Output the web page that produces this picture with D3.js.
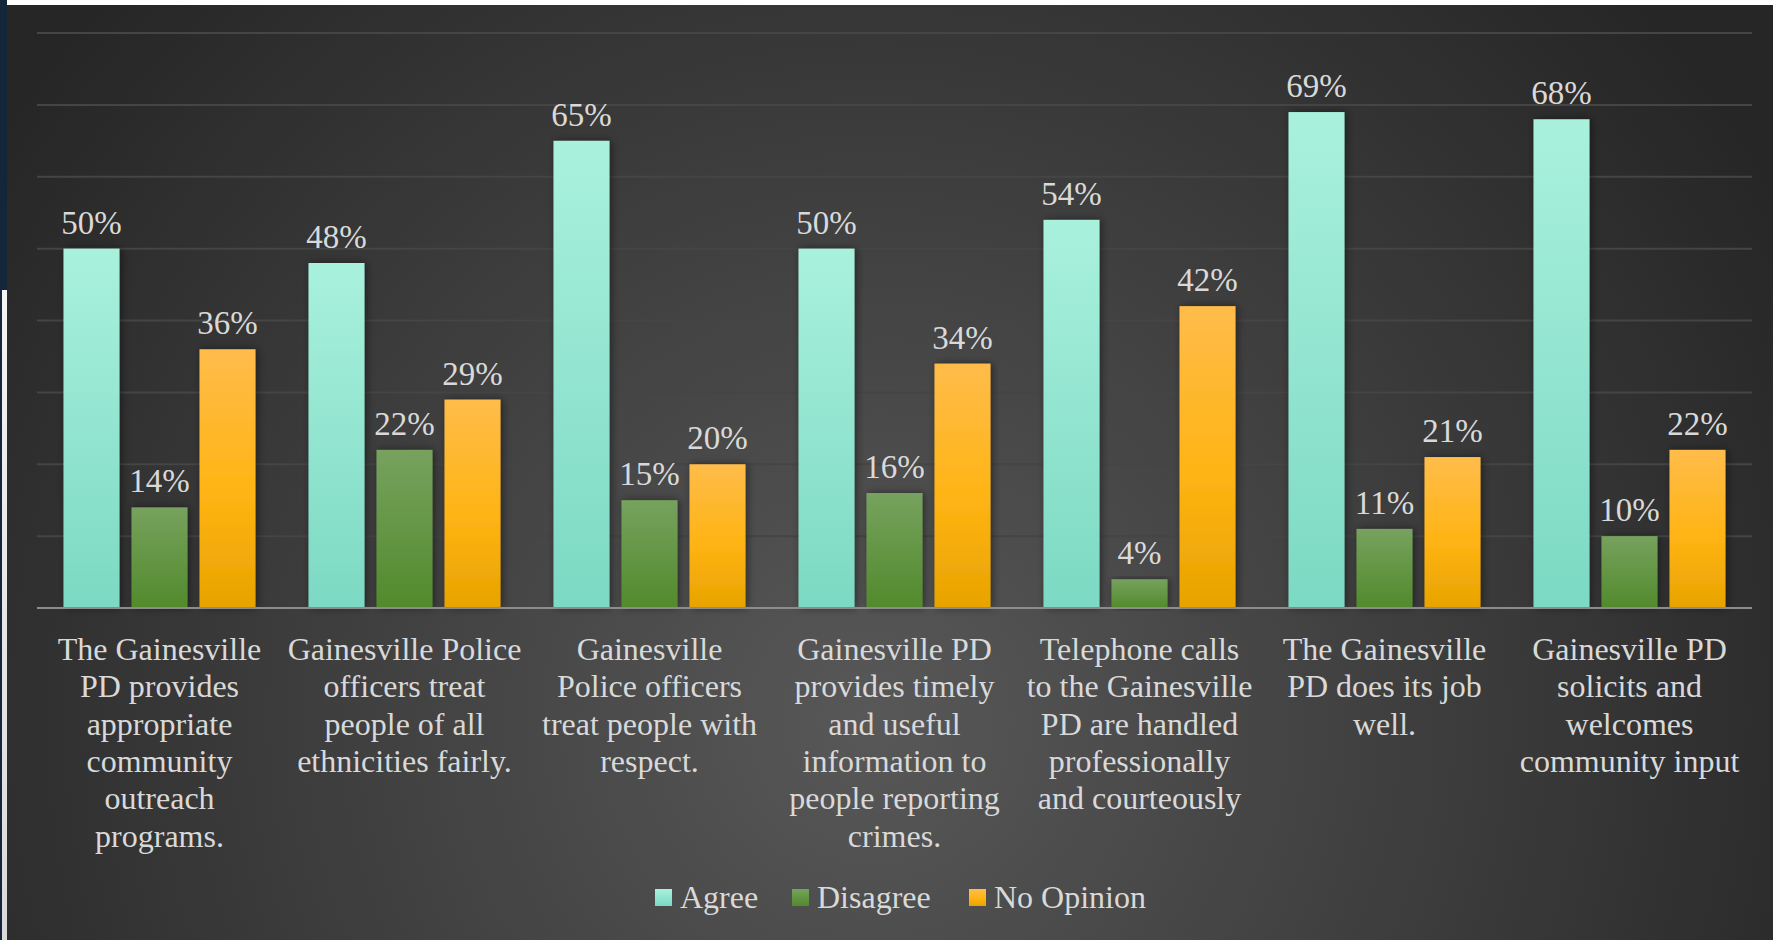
<!DOCTYPE html>
<html>
<head>
<meta charset="utf-8">
<script src="https://cdn.jsdelivr.net/npm/d3@7"></script>
<style>
  html, body { margin: 0; padding: 0; background: #ffffff; overflow: hidden; }
  svg { display: block; }
</style>
</head>
<body>
<svg class="d3svg" width="1773" height="940"></svg>
<script>
var text_color = '#d9d9d9';
var grid_color = '#454545';
var axis_color = '#8c8c8c';

// data
var categories = ['c1', 'c2', 'c3', 'c4', 'c5', 'c6', 'c7'];
var category_lines = [
    ['The Gainesville', 'PD provides', 'appropriate', 'community', 'outreach', 'programs.'],
    ['Gainesville Police', 'officers treat', 'people of all', 'ethnicities fairly.'],
    ['Gainesville', 'Police officers', 'treat people with', 'respect.'],
    ['Gainesville PD', 'provides timely', 'and useful', 'information to', 'people reporting', 'crimes.'],
    ['Telephone calls', 'to the Gainesville', 'PD are handled', 'professionally', 'and courteously'],
    ['The Gainesville', 'PD does its job', 'well.'],
    ['Gainesville PD', 'solicits and', 'welcomes', 'community input']
];
var series = ['Agree', 'Disagree', 'No Opinion'];
var agree = [50, 48, 65, 50, 54, 69, 68];
var disagree = [14, 22, 15, 16, 4, 11, 10];
var no_opinion = [36, 29, 20, 34, 42, 21, 22];
var y_ticks = [0, 10, 20, 30, 40, 50, 60, 70, 80];

var values = [agree, disagree, no_opinion];
var series_colors = [
    ['#a9f1dd', '#7cd9c3'],
    ['#76a25e', '#528a2c'],
    ['#ffbc4a', '#e8a300']
];

var svg = d3.select(".d3svg"),
    width = +svg.attr("width"),
    height = +svg.attr("height");

var defs = svg.append("defs");

var bg = defs.append("radialGradient")
    .attr("id", "bg")
    .attr("gradientUnits", "userSpaceOnUse")
    .attr("cx", 870).attr("cy", 720).attr("r", 1050);
bg.append("stop").attr("offset", "0%").attr("stop-color", "#585858");
bg.append("stop").attr("offset", "100%").attr("stop-color", "#262626");

var edge = defs.append("linearGradient")
    .attr("id", "edge")
    .attr("x1", 0).attr("y1", 0).attr("x2", 0).attr("y2", 1);
edge.append("stop").attr("offset", "0%").attr("stop-color", "#f4f4f4");
edge.append("stop").attr("offset", "100%").attr("stop-color", "#dadada");

series_colors.forEach(function(c, k) {
    var g = defs.append("linearGradient")
        .attr("id", "bar" + k)
        .attr("x1", 0).attr("y1", 0).attr("x2", 0).attr("y2", 1);
    g.append("stop").attr("offset", "0%").attr("stop-color", c[0]);
    if (k == 2) g.append("stop").attr("offset", "55%").attr("stop-color", "#ffb414");
    g.append("stop").attr("offset", "100%").attr("stop-color", c[1]);
});

var shadow = defs.append("filter").attr("id", "shadow")
    .attr("x", "-30%").attr("y", "-10%").attr("width", "160%").attr("height", "120%");
shadow.append("feDropShadow")
    .attr("dx", 2).attr("dy", 0).attr("stdDeviation", 4)
    .attr("flood-color", "#000").attr("flood-opacity", 0.45);

// frame
svg.append("rect").attr("x", 0).attr("y", 0).attr("width", width).attr("height", height).attr("fill", "#ffffff");
svg.append("rect").attr("x", 0).attr("y", 0).attr("width", 7).attr("height", height).attr("fill", "#15253a");
svg.append("rect").attr("x", 2).attr("y", 290).attr("width", 5).attr("height", height - 290).attr("fill", "url(#edge)");
svg.append("rect").attr("x", 7).attr("y", 5).attr("width", width - 7).attr("height", height - 5).attr("fill", "url(#bg)");

var x0 = d3.scaleBand().domain(categories).range([37, 1752])
    .paddingInner(53 / 245).paddingOuter(53 / 490);
var x1 = d3.scaleBand().domain(series).range([0, x0.bandwidth()])
    .paddingInner(12 / 68);
var y = d3.scaleLinear().domain([0, 80]).range([608, 33]);

// gridlines
svg.append("g").selectAll("line")
    .data(y_ticks.slice(1))
    .enter().append("line")
    .attr("x1", 37).attr("x2", 1752)
    .attr("y1", function(d) { return y(d); })
    .attr("y2", function(d) { return y(d); })
    .attr("stroke", grid_color)
    .attr("stroke-width", 2);

// bars
var groups = svg.append("g").selectAll("g")
    .data(categories)
    .enter().append("g")
    .attr("transform", function(d) { return "translate(" + x0(d) + ",0)"; });

groups.selectAll("rect")
    .data(function(d, i) { return series.map(function(s, k) { return {s: s, k: k, v: values[k][i]}; }); })
    .enter().append("rect")
    .attr("x", function(d) { return x1(d.s); })
    .attr("y", function(d) { return y(d.v); })
    .attr("width", x1.bandwidth())
    .attr("height", function(d) { return y(0) - y(d.v); })
    .attr("fill", function(d) { return "url(#bar" + d.k + ")"; })
    .attr("filter", "url(#shadow)");

groups.selectAll("text")
    .data(function(d, i) { return series.map(function(s, k) { return {s: s, k: k, v: values[k][i]}; }); })
    .enter().append("text")
    .attr("x", function(d) { return x1(d.s) + x1.bandwidth() / 2; })
    .attr("y", function(d) { return y(d.v) - 15; })
    .attr("text-anchor", "middle")
    .attr("font-family", "'Liberation Serif', serif")
    .attr("font-size", 33)
    .attr("fill", text_color)
    .text(function(d) { return d.v + "%"; });

// axis line
svg.append("line")
    .attr("x1", 37).attr("x2", 1752)
    .attr("y1", y(0)).attr("y2", y(0))
    .attr("stroke", axis_color)
    .attr("stroke-width", 2);

// category labels
var labels = svg.append("g").selectAll("text")
    .data(categories)
    .enter().append("text")
    .attr("text-anchor", "middle")
    .attr("font-family", "'Liberation Serif', serif")
    .attr("font-size", 32)
    .attr("fill", text_color);

labels.selectAll("tspan")
    .data(function(d, i) { return category_lines[i].map(function(t) { return {t: t, c: d}; }); })
    .enter().append("tspan")
    .attr("x", function(d) { return x0(d.c) + x0.bandwidth() / 2; })
    .attr("y", function(d, j) { return 660 + j * 37.3; })
    .text(function(d) { return d.t; });

// legend
var legend_x = [655, 792, 969];
var legend = svg.append("g").selectAll("g")
    .data(series)
    .enter().append("g")
    .attr("transform", function(d, k) { return "translate(" + legend_x[k] + ",889)"; });
legend.append("rect")
    .attr("width", 17).attr("height", 17)
    .attr("fill", function(d, k) { return "url(#bar" + k + ")"; });
legend.append("text")
    .attr("x", 25).attr("y", 19)
    .attr("font-family", "'Liberation Serif', serif")
    .attr("font-size", 32)
    .attr("fill", text_color)
    .text(function(d) { return d; });
</script>
</body>
</html>
